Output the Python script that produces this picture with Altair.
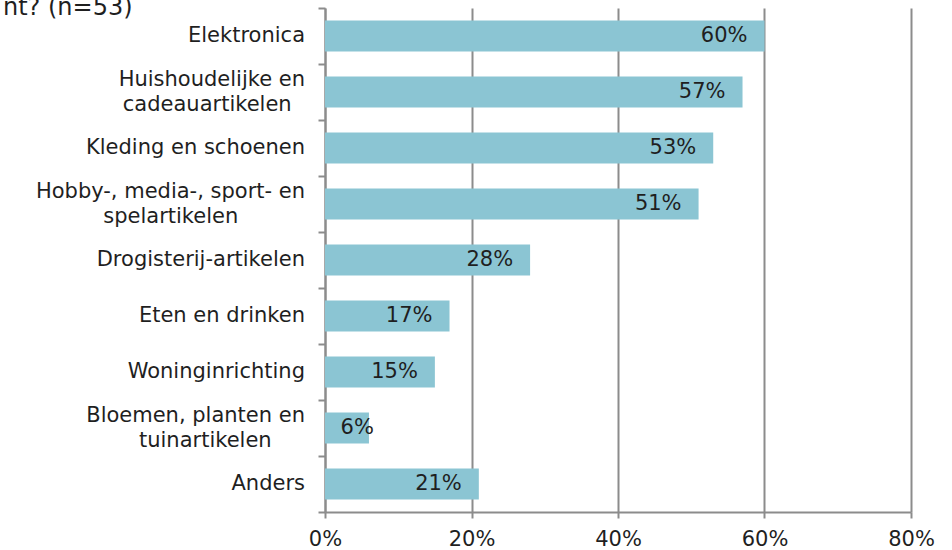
import altair as alt
import pandas as pd

# ---- data ----
categories = [
    "Elektronica",
    "Huishoudelijke en\ncadeauartikelen",
    "Kleding en schoenen",
    "Hobby-, media-, sport- en\nspelartikelen",
    "Drogisterij-artikelen",
    "Eten en drinken",
    "Woninginrichting",
    "Bloemen, planten en\ntuinartikelen",
    "Anders",
]
values = [0.60, 0.57, 0.53, 0.51, 0.28, 0.17, 0.15, 0.06, 0.21]
x_ticks = [0, 0.2, 0.4, 0.6, 0.8]
title_text = ["nt? (n=53)"]

df = pd.DataFrame({"categorie": categories, "aandeel": values})

FONT = "DejaVu Sans"
GRAY = "#8c8c8c"
TEXT = "#1f1f1f"
BAR = "#8bc5d3"

NB = "\u00a0"
ZW = "\u200b"
s = "split(datum.categorie, '\\n')"
# two-line labels: second line centred under the first (Excel style)
lines_expr = (
    f"[{s}[0], pad({s}[1], length({s}[1]) + "
    f"round((length({s}[0]) - length({s}[1])) * 0.85), '{NB}') + '{ZW}']"
)

y_axis = alt.Axis(
    tickBand="extent",
    tickSize=7,
    tickColor=GRAY,
    tickWidth=2,
    domainColor=GRAY,
    domainWidth=2,
    labels=False,
    grid=False,
)
y_scale = alt.Scale(paddingInner=0, paddingOuter=0)

x_axis = alt.Axis(
    values=x_ticks,
    format=".0%",
    grid=True,
    gridColor=GRAY,
    gridWidth=2,
    tickSize=6,
    tickColor=GRAY,
    tickWidth=2,
    domainColor=GRAY,
    domainWidth=2,
    labelFont=FONT,
    labelFontSize=21,
    labelColor=TEXT,
    labelPadding=10,
    labelFlush=False,
)
x_scale = alt.Scale(domain=[0, 0.8], nice=False)

y_enc = alt.Y("categorie:N", sort=categories, title=None, scale=y_scale, axis=y_axis)

bars = alt.Chart(df).mark_bar(color=BAR, size=31).encode(
    x=alt.X("aandeel:Q", scale=x_scale, title=None, axis=x_axis),
    y=y_enc,
)

texts = (
    alt.Chart(df)
    .transform_calculate(pos="max(datum.aandeel, 0.09)")
    .mark_text(align="right", baseline="middle", dx=-17, font=FONT, fontSize=21, color=TEXT)
    .encode(
        x=alt.X("pos:Q", scale=x_scale, title=None, axis=x_axis),
        y=y_enc,
        text=alt.Text("aandeel:Q", format=".0%"),
    )
)

cat_single = (
    alt.Chart(df)
    .transform_filter("indexof(datum.categorie, '\\n') < 0")
    .mark_text(align="right", baseline="middle", font=FONT, fontSize=21, color=TEXT)
    .encode(y=y_enc, x=alt.value(-20), text="categorie:N")
)

cat_double = (
    alt.Chart(df)
    .transform_filter("indexof(datum.categorie, '\\n') >= 0")
    .transform_calculate(regels=lines_expr)
    .mark_text(align="right", baseline="line-bottom", lineHeight=25, font=FONT, fontSize=21, color=TEXT)
    .encode(y=y_enc, x=alt.value(-20), text="regels:N")
)

title = (
    alt.Chart(pd.DataFrame({"t": title_text}))
    .mark_text(align="left", baseline="alphabetic", font=FONT, fontSize=24, color=TEXT)
    .encode(text="t:N", x=alt.value(-322), y=alt.value(7))
)

chart = (
    alt.layer(bars, texts, cat_single, cat_double, title)
    .properties(
        width=586,
        height=504,
        autosize=alt.AutoSizeParams(type="none"),
        padding={"left": 325, "top": 8, "right": 41, "bottom": 38},
    )
    .configure_view(stroke=None)
)

chart.save("out.html", embed_options={"renderer": "svg", "actions": False})
